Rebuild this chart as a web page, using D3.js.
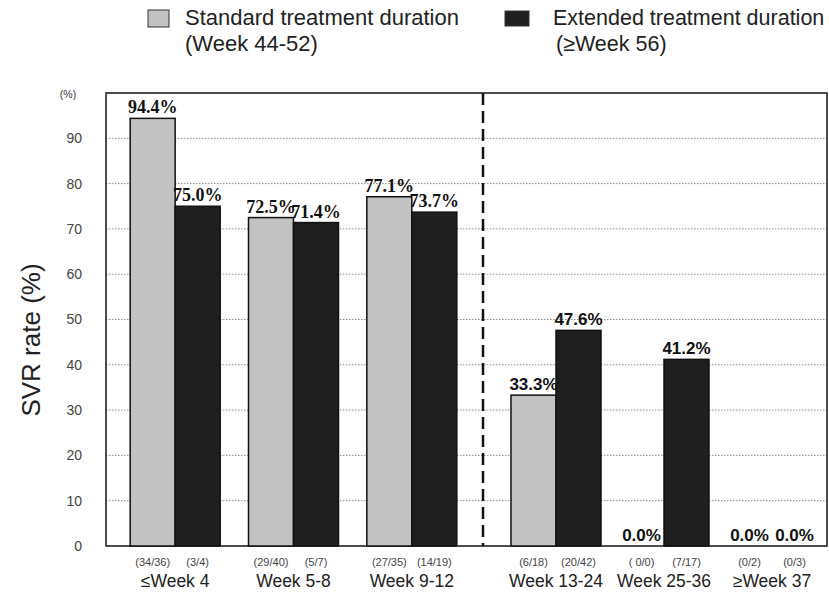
<!DOCTYPE html>
<html>
<head>
<meta charset="utf-8">
<script src="https://cdn.jsdelivr.net/npm/d3@7"></script>
<style>
  html, body { margin: 0; padding: 0; background: #fff; overflow: hidden; }
  text { font-family: "Liberation Sans", Arial, sans-serif; }
</style>
</head>
<body>
<svg id="chart" width="829" height="593"></svg>
<script>
// SVR rate by time to HCV RNA negativity, standard vs extended treatment
const categories = ["≤Week 4", "Week 5-8", "Week 9-12", "Week 13-24", "Week 25-36", "≥Week 37"];
const earlyGroups = categories.slice(0, 3);
const lateGroups = categories.slice(3);
const standardRate = [94.4, 72.5, 77.1, 33.3, 0.0, 0.0];
const extendedRate = [75.0, 71.4, 73.7, 47.6, 41.2, 0.0];
const standardCounts = ["(34/36)", "(29/40)", "(27/35)", "(6/18)", "( 0/0)", "(0/2)"];
const extendedCounts = ["(3/4)", "(5/7)", "(14/19)", "(20/42)", "(7/17)", "(0/3)"];
const yTicks = [0, 10, 20, 30, 40, 50, 60, 70, 80, 90];
const gridTicks = [10, 20, 30, 40, 50, 60, 70, 80, 90];
const seriesKeys = ["standard", "extended"];
const legendLines = [
  ["Standard treatment duration", "(Week 44-52)"],
  ["Extended treatment duration", "(≥Week 56)"]
];

const colors = { standard: "#c2c2c2", extended: "#1f1f1f" };

const svg = d3.select("#chart");
const frame = { left: 106, right: 827, top: 93, bottom: 546 };

const y = d3.scaleLinear().domain([0, 100]).range([frame.bottom, frame.top]);

// The early and late groups sit in two panels split by a dashed divider
const xEarly = d3.scaleBand().domain(earlyGroups).range([116, 471]);
const xLate = d3.scaleBand().domain(lateGroups).range([502, 826]);
const center = c => earlyGroups.includes(c)
  ? xEarly(c) + xEarly.bandwidth() / 2
  : xLate(c) + xLate.bandwidth() / 2;
const barW = 45;
const xSeries = d3.scaleBand().domain(seriesKeys).range([-barW, barW]);

const rows = categories.map((c, i) => ({
  category: c,
  index: i,
  standard: standardRate[i],
  extended: extendedRate[i],
  standardN: standardCounts[i],
  extendedN: extendedCounts[i]
}));
const bars = rows.flatMap(r => seriesKeys.map(k => ({
  category: r.category, index: r.index, key: k, value: r[k], count: r[k + "N"]
})));

// dotted gridlines
svg.append("g").selectAll("line").data(gridTicks).join("line")
  .attr("x1", frame.left).attr("x2", frame.right)
  .attr("y1", d => y(d)).attr("y2", d => y(d))
  .attr("stroke", "#8c8c8c").attr("stroke-width", 1)
  .attr("stroke-dasharray", "1.5,1.5");

// plot frame
svg.append("rect")
  .attr("x", frame.left).attr("y", frame.top)
  .attr("width", frame.right - frame.left).attr("height", frame.bottom - frame.top)
  .attr("fill", "none").attr("stroke", "#222").attr("stroke-width", 1.6);

// divider between early and late responders
svg.append("line")
  .attr("x1", 483).attr("x2", 483)
  .attr("y1", frame.top).attr("y2", frame.bottom)
  .attr("stroke", "#111").attr("stroke-width", 2.5)
  .attr("stroke-dasharray", "12,6");

// bars
svg.append("g").selectAll("rect").data(bars.filter(d => d.value > 0)).join("rect")
  .attr("x", d => center(d.category) + xSeries(d.key))
  .attr("y", d => y(d.value))
  .attr("width", xSeries.bandwidth())
  .attr("height", d => y(0) - y(d.value))
  .attr("fill", d => colors[d.key])
  .attr("stroke", "#111").attr("stroke-width", 1.5);

// value labels
svg.append("g").selectAll("text").data(bars).join("text")
  .attr("x", d => center(d.category) + xSeries(d.key) + xSeries.bandwidth() / 2)
  .attr("y", d => y(d.value) - 5)
  .attr("text-anchor", "middle")
  .style("font-family", d => d.index < 3 ? "'Liberation Serif', 'Times New Roman', serif" : "'Liberation Sans', Arial, sans-serif")
  .style("font-weight", "bold")
  .style("font-size", d => d.index < 3 ? "18px" : "17px")
  .attr("fill", "#111")
  .text(d => d.value.toFixed(1) + "%");

// n/N counts under each bar
svg.append("g").selectAll("text").data(bars).join("text")
  .attr("x", d => center(d.category) + xSeries(d.key) + xSeries.bandwidth() / 2)
  .attr("y", 566)
  .attr("text-anchor", "middle")
  .style("font-size", "11px")
  .attr("fill", "#444")
  .text(d => d.count);

// category labels
svg.append("g").selectAll("text").data(categories).join("text")
  .attr("x", d => center(d))
  .attr("y", 587)
  .attr("text-anchor", "middle")
  .style("font-size", "17.5px")
  .attr("fill", "#222")
  .text(d => d);

// y axis
const yAxis = svg.append("g")
  .attr("transform", `translate(${frame.left},0)`)
  .call(d3.axisLeft(y).tickValues(yTicks).tickSize(0).tickPadding(24));
yAxis.select(".domain").remove();
yAxis.selectAll("text")
  .style("font-family", "'Liberation Sans', Arial, sans-serif")
  .style("font-size", "14px")
  .attr("fill", "#444");

svg.append("text")
  .attr("x", 68).attr("y", 98)
  .attr("text-anchor", "middle")
  .style("font-size", "10.5px")
  .attr("fill", "#333")
  .text("(%)");

svg.append("text")
  .attr("transform", "translate(40,340) rotate(-90)")
  .attr("text-anchor", "middle")
  .style("font-size", "26px")
  .attr("fill", "#222")
  .text("SVR rate (%)");

// legend
const legendPos = [
  { sx: 148, sy: 10, sw: 21, sh: 17, tx: 185, fs: 22 },
  { sx: 505, sy: 11, sw: 24, sh: 15, tx: 553, fs: 21.5 }
];
seriesKeys.forEach((k, i) => {
  const p = legendPos[i];
  const g = svg.append("g");
  g.append("rect")
    .attr("x", p.sx).attr("y", p.sy).attr("width", p.sw).attr("height", p.sh)
    .attr("fill", colors[k]).attr("stroke", "#333").attr("stroke-width", 1);
  legendLines[i].forEach((line, j) => {
    g.append("text")
      .attr("x", p.tx + (j === 1 && i === 1 ? 3 : 0))
      .attr("y", 25 + j * 26)
      .style("font-size", p.fs + "px")
      .attr("fill", "#222")
      .text(line);
  });
});
</script>
</body>
</html>
